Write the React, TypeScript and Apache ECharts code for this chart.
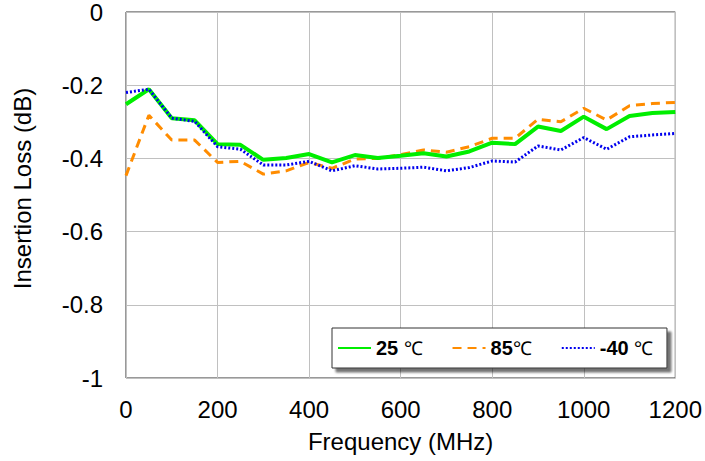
import React, { useEffect, useRef } from "react";
import * as echarts from "echarts";

const freqs = [0, 50, 100, 150, 200, 250, 300, 350, 400, 450, 500, 550, 600, 650, 700, 750, 800, 850, 900, 950, 1000, 1050, 1100, 1150, 1200];
const loss25 = [-0.252, -0.211, -0.29, -0.296, -0.361, -0.363, -0.404, -0.399, -0.388, -0.411, -0.391, -0.399, -0.393, -0.386, -0.395, -0.381, -0.357, -0.361, -0.313, -0.325, -0.286, -0.32, -0.284, -0.276, -0.273];
const loss85 = [-0.447, -0.282, -0.35, -0.35, -0.411, -0.408, -0.443, -0.434, -0.411, -0.427, -0.402, -0.4, -0.39, -0.377, -0.383, -0.368, -0.345, -0.345, -0.293, -0.3, -0.263, -0.295, -0.256, -0.25, -0.247];
const lossM40 = [-0.22, -0.211, -0.29, -0.299, -0.368, -0.375, -0.418, -0.418, -0.408, -0.434, -0.42, -0.429, -0.427, -0.424, -0.434, -0.425, -0.407, -0.41, -0.366, -0.377, -0.343, -0.375, -0.341, -0.336, -0.332];
const seriesNames = ["25 ℃", "85℃", "-40 ℃"];

export default function App() {
  const ref = useRef<HTMLDivElement>(null);
  useEffect(() => {
    const chart = echarts.init(ref.current!, null, { renderer: "svg" });
    const pair = (ys: number[]) => freqs.map((f, i) => [f, ys[i]]);
    const font = "Liberation Sans, Arial, sans-serif";
    chart.setOption({
      animation: false,
      grid: {
        left: 126,
        right: 29,
        top: 11,
        bottom: 83,
        show: true,
        borderColor: "#333",
        borderWidth: 1,
      },
      xAxis: {
        type: "value",
        min: 0,
        max: 1200,
        interval: 200,
        name: "Frequency (MHz)",
        nameLocation: "middle",
        nameGap: 51,
        nameTextStyle: { fontSize: 24, color: "#000", fontFamily: font },
        axisLine: { show: false },
        axisTick: { show: false },
        axisLabel: { fontSize: 24, color: "#000", fontFamily: font, margin: 19, formatter: (v: number) => String(v) },
        splitLine: { show: true, lineStyle: { color: "#c0c0c0", width: 1 } },
      },
      yAxis: {
        type: "value",
        min: -1,
        max: 0,
        interval: 0.2,
        name: "Insertion Loss (dB)",
        nameLocation: "middle",
        nameGap: 92,
        nameTextStyle: { fontSize: 24, color: "#000", fontFamily: font, padding: [0, 0, 0, 13] },
        axisLine: { show: false },
        axisTick: { show: false },
        axisLabel: {
          fontSize: 24,
          color: "#000",
          fontFamily: font,
          margin: 23,
          padding: [4, 0, 0, 0],
          formatter: (v: number) => (Math.abs(v) < 1e-9 ? "0" : String(Number(v.toFixed(1)))),
        },
        splitLine: { show: true, lineStyle: { color: "#c0c0c0", width: 1 } },
      },
      legend: {
        left: 332,
        top: 328,
        padding: [10, 14, 10, 5],
        itemWidth: 33,
        itemHeight: 20,
        itemGap: 29,
        backgroundColor: "#fff",
        borderColor: "#333",
        borderWidth: 1,
        borderRadius: 0,
        shadowColor: "rgba(0,0,0,0.55)",
        shadowOffsetX: 4,
        shadowOffsetY: 4,
        shadowBlur: 2,
        itemStyle: { color: "transparent", borderWidth: 0, opacity: 0 },
        data: seriesNames,
        formatter: (name: string) => {
          const m = name.match(/^(-?\d+)(\s*)(℃)$/);
          if (!m) return name;
          return "{b|" + m[1] + "}{n|" + (m[2] ? " " : "") + m[3] + "}";
        },
        textStyle: {
          fontFamily: font,
          rich: {
            b: { fontSize: 20, fontWeight: "bold", color: "#000", fontFamily: font },
            n: { fontSize: 19, color: "#000", fontFamily: font },
          },
        },
      },
      series: [
        {
          name: seriesNames[0],
          type: "line",
          data: pair(loss25),
          symbol: "none",
          lineStyle: { color: "#00ee00", width: 4 },
          itemStyle: { color: "#00ee00" },
          z: 3,
        },
        {
          name: seriesNames[1],
          type: "line",
          data: pair(loss85),
          symbol: "none",
          lineStyle: { color: "#ff8c00", width: 3, type: [9, 6] },
          itemStyle: { color: "#ff8c00" },
          z: 2,
        },
        {
          name: seriesNames[2],
          type: "line",
          data: pair(lossM40),
          symbol: "none",
          lineStyle: { color: "#0000ee", width: 3, type: [2, 2] },
          itemStyle: { color: "#0000ee" },
          z: 4,
        },
      ],
    });
    return () => chart.dispose();
  }, []);
  return <div ref={ref} style={{ width: 705, height: 461, position: "absolute", left: 0, top: 0 }} />;
}
